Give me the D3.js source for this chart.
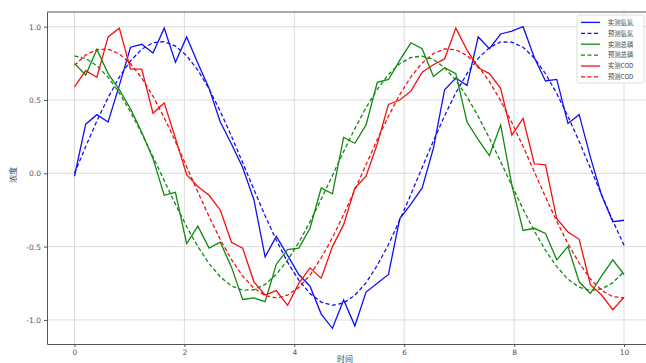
<!DOCTYPE html>
<html>
<head>
<meta charset="utf-8">
<script src="https://cdn.jsdelivr.net/npm/d3@7"></script>
<style>
    body { margin: 0; background: #fff; }
    text { font-family: "DejaVu Sans", "Noto Sans CJK SC", sans-serif; }
</style>
</head>
<body>
<div id="chart"></div>
<script>
// time axis (50 samples)
const times = [0, 0.204, 0.408, 0.612, 0.816, 1.020, 1.224, 1.429, 1.633, 1.837,
    2.041, 2.245, 2.449, 2.653, 2.857, 3.061, 3.265, 3.469, 3.673, 3.878,
    4.082, 4.286, 4.490, 4.694, 4.898, 5.102, 5.306, 5.510, 5.714, 5.918,
    6.122, 6.327, 6.531, 6.735, 6.939, 7.143, 7.347, 7.551, 7.755, 7.959,
    8.163, 8.367, 8.571, 8.776, 8.980, 9.184, 9.388, 9.592, 9.796, 10.0];

const nh3Actual = [-0.02, 0.335, 0.40, 0.35, 0.60, 0.86, 0.88, 0.82, 0.99, 0.757,
    0.93, 0.75, 0.58, 0.35, 0.20, 0.04, -0.18, -0.57, -0.43, -0.56,
    -0.69, -0.77, -0.96, -1.057, -0.864, -1.04, -0.81, -0.75, -0.69, -0.31,
    -0.21, -0.10, 0.17, 0.57, 0.65, 0.60, 0.93, 0.85, 0.95, 0.97,
    1.0, 0.79, 0.63, 0.64, 0.34, 0.40, 0.11, -0.15, -0.33, -0.32];
const nh3Pred = [0, 0.182, 0.357, 0.517, 0.656, 0.767, 0.846, 0.891, 0.898, 0.868,
    0.802, 0.703, 0.575, 0.423, 0.253, 0.072, -0.111, -0.289, -0.456, -0.606,
    -0.729, -0.819, -0.878, -0.900, -0.884, -0.832, -0.747, -0.627, -0.486, -0.320,
    -0.144, 0.039, 0.220, 0.392, 0.549, 0.681, 0.784, 0.857, 0.896, 0.894,
    0.860, 0.786, 0.679, 0.544, 0.388, 0.217, 0.035, -0.147, -0.324, -0.490];
const tpActual = [0.75, 0.67, 0.845, 0.68, 0.57, 0.44, 0.28, 0.10, -0.15, -0.13,
    -0.48, -0.36, -0.51, -0.47, -0.64, -0.86, -0.85, -0.875, -0.62, -0.52,
    -0.51, -0.375, -0.10, -0.14, 0.245, 0.205, 0.33, 0.62, 0.64, 0.77,
    0.89, 0.85, 0.66, 0.72, 0.68, 0.35, 0.23, 0.12, 0.33, -0.08,
    -0.39, -0.375, -0.41, -0.59, -0.50, -0.74, -0.82, -0.70, -0.59, -0.69];
const tpPred = [0.800, 0.783, 0.734, 0.655, 0.548, 0.418, 0.272, 0.113, -0.050, -0.210,
    -0.363, -0.499, -0.616, -0.706, -0.768, -0.797, -0.794, -0.758, -0.689, -0.592,
    -0.472, -0.331, -0.176, -0.015, 0.148, 0.305, 0.448, 0.573, 0.674, 0.747,
    0.790, 0.799, 0.776, 0.720, 0.634, 0.522, 0.388, 0.239, 0.079, -0.084,
    -0.244, -0.393, -0.525, -0.637, -0.722, -0.777, -0.799, -0.789, -0.746, -0.671];
const codActual = [0.59, 0.70, 0.655, 0.93, 0.99, 0.71, 0.71, 0.41, 0.48, 0.24,
    -0.01, -0.09, -0.15, -0.25, -0.47, -0.51, -0.74, -0.83, -0.80, -0.90,
    -0.75, -0.645, -0.715, -0.50, -0.35, -0.10, -0.02, 0.20, 0.47, 0.50,
    0.56, 0.69, 0.74, 0.78, 0.99, 0.84, 0.72, 0.68, 0.58, 0.26,
    0.375, 0.065, 0.057, -0.31, -0.40, -0.45, -0.76, -0.83, -0.93, -0.845];
const codPred = [0.736, 0.807, 0.844, 0.847, 0.814, 0.747, 0.650, 0.526, 0.379, 0.217,
    0.045, -0.127, -0.295, -0.451, -0.588, -0.701, -0.783, -0.834, -0.850, -0.831,
    -0.778, -0.694, -0.576, -0.439, -0.281, -0.113, 0.060, 0.230, 0.390, 0.536,
    0.658, 0.752, 0.817, 0.848, 0.843, 0.803, 0.730, 0.625, 0.496, 0.346,
    0.183, 0.011, -0.162, -0.327, -0.480, -0.612, -0.720, -0.798, -0.841, -0.849];

const seriesNames = ["实测氨氮", "预测氨氮", "实测总磷", "预测总磷", "实测COD", "预测COD"];
const xTicks = [0, 2, 4, 6, 8, 10];
const yTicks = [1.0, 0.5, 0.0, -0.5, -1.0];

const series = [
    { name: seriesNames[0], values: nh3Actual, color: "#1010f5", dashed: false },
    { name: seriesNames[1], values: nh3Pred,   color: "#1010f5", dashed: true },
    { name: seriesNames[2], values: tpActual,  color: "#118a11", dashed: false },
    { name: seriesNames[3], values: tpPred,    color: "#118a11", dashed: true },
    { name: seriesNames[4], values: codActual, color: "#f51010", dashed: false },
    { name: seriesNames[5], values: codPred,   color: "#f51010", dashed: true }
];

// SVG dimensions
const svgWidth = 646;
const svgHeight = 363;
const plot = { left: 47, right: 651.5, top: 12, bottom: 344 };

let svg = d3.select("#chart").append("svg")
    .attr("width", svgWidth)
    .attr("height", svgHeight);

const xScale = d3.scaleLinear().domain([-0.5, 10.5]).range([plot.left, plot.right]);
const yScale = d3.scaleLinear().domain([-1.164, 1.10]).range([plot.bottom, plot.top]);

// grid
svg.append("g")
    .selectAll("line.vgrid")
    .data(xTicks)
    .enter().append("line")
    .attr("x1", d => xScale(d)).attr("x2", d => xScale(d))
    .attr("y1", plot.top).attr("y2", plot.bottom)
    .style("stroke", "#dcdcdc")
    .style("stroke-width", 1);

svg.append("g")
    .selectAll("line.hgrid")
    .data(yTicks)
    .enter().append("line")
    .attr("x1", plot.left).attr("x2", plot.right)
    .attr("y1", d => yScale(d)).attr("y2", d => yScale(d))
    .style("stroke", "#dcdcdc")
    .style("stroke-width", 1);

// lines
const line = d3.line()
    .x((d, i) => xScale(times[i]))
    .y(d => yScale(d));

series.forEach(s => {
    svg.append("path")
        .datum(s.values)
        .attr("d", line)
        .style("fill", "none")
        .style("stroke", s.color)
        .style("stroke-width", 1.3)
        .style("stroke-dasharray", s.dashed ? "4,2.5" : null);
});

// axes
const xAxis = svg.append("g")
    .attr("transform", "translate(0," + plot.bottom + ")")
    .call(d3.axisBottom(xScale).tickValues(xTicks).tickSize(3).tickSizeOuter(0).tickPadding(3).tickFormat(d3.format("d")));
const yAxis = svg.append("g")
    .attr("transform", "translate(" + plot.left + ",0)")
    .call(d3.axisLeft(yScale).tickValues(yTicks).tickSize(3).tickSizeOuter(0).tickPadding(3).tickFormat(d => d.toFixed(1)));

[xAxis, yAxis].forEach(ax => {
    ax.select(".domain").style("stroke", "#555").style("stroke-width", 1);
    ax.selectAll(".tick line").style("stroke", "#555");
    ax.selectAll(".tick text").style("fill", "#555").style("font-size", "7.5px")
        .style("font-family", "'DejaVu Sans', sans-serif");
});

// top spine
svg.append("line")
    .attr("x1", plot.left).attr("x2", plot.right)
    .attr("y1", plot.top).attr("y2", plot.top)
    .style("stroke", "#555")
    .style("stroke-width", 1);

// axis labels
svg.append("text")
    .attr("x", 345)
    .attr("y", 362)
    .attr("text-anchor", "middle")
    .style("font-size", "8px")
    .style("fill", "#444")
    .style("font-family", "'Noto Sans CJK SC', sans-serif")
    .text("时间");

svg.append("text")
    .attr("transform", "translate(16,175) rotate(-90)")
    .attr("text-anchor", "middle")
    .style("font-size", "8px")
    .style("fill", "#444")
    .style("font-family", "'Noto Sans CJK SC', sans-serif")
    .text("浓度");

// legend
const legend = svg.append("g");
legend.append("rect")
    .attr("x", 577)
    .attr("y", 15)
    .attr("width", 67)
    .attr("height", 68)
    .attr("rx", 2)
    .style("fill", "white")
    .style("fill-opacity", 0.85)
    .style("stroke", "#ddd")
    .style("stroke-width", 1);

series.forEach((s, i) => {
    const yy = 22.4 + i * 10.9;
    legend.append("line")
        .attr("x1", 581).attr("x2", 600)
        .attr("y1", yy).attr("y2", yy)
        .style("stroke", s.color)
        .style("stroke-width", 1.3)
        .style("stroke-dasharray", s.dashed ? "4,2.5" : null);
    legend.append("text")
        .attr("x", 608)
        .attr("y", yy + 2.3)
        .style("font-size", "6.3px")
        .style("fill", "#444")
        .style("font-family", "'Noto Sans CJK SC', sans-serif")
        .text(s.name);
});
</script>
</body>
</html>
